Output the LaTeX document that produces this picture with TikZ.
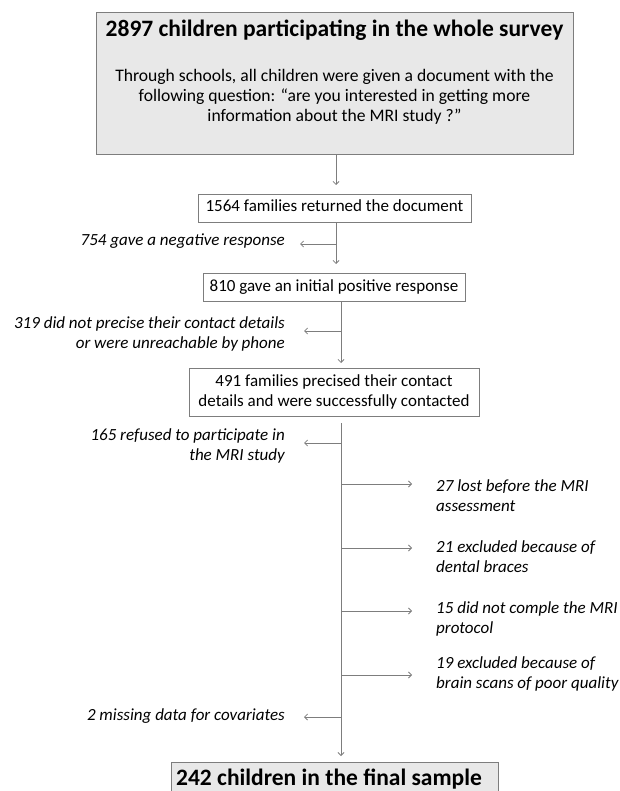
\documentclass[tikz,border=0pt]{standalone}
\usepackage{fontspec}
\setmainfont{Carlito}
\usetikzlibrary{arrows.meta}
\definecolor{linegray}{RGB}{125,125,125}
\definecolor{boxgray}{RGB}{232,232,232}
\begin{document}
\begin{tikzpicture}[x=1pt,y=-1pt,
  conn/.style={draw=linegray,line width=0.8pt},
  arr/.style={conn,-{Straight Barb[length=3pt,width=6pt]}},
  flowbox/.style={draw=linegray,line width=0.9pt,inner sep=0pt,text height=12pt,text depth=4pt,
    font=\fontsize{17}{20}\selectfont,align=center},
  graybox/.style={draw=linegray,line width=0.9pt,fill=boxgray,inner sep=0pt},
  note/.style={font=\fontsize{17}{20}\selectfont\itshape,inner sep=0pt},
  big/.style={font=\fontsize{23.5}{28}\selectfont\bfseries,inner sep=0pt}]
\useasboundingbox (0,0) rectangle (619,791);

% top box
\node[graybox,minimum width=477pt,minimum height=142pt] (top) at (334.5,83) {};
\node[big,anchor=base] (title) at (334.5,37) {2897 children participating in the whole survey};
\node[font=\fontsize{17.6}{20}\selectfont,align=center,anchor=base,inner sep=0pt] (body) at (334.5,122)
  {Through schools, all children were given a document with the\\
   following question: “are you interested in getting more\\
   information about the MRI study ?”};

% boxes
\node[flowbox,minimum width=273pt,minimum height=28pt] (b1564) at (334.5,208) {1564 families returned the document};
\node[flowbox,minimum width=262pt,minimum height=28pt] (b810) at (334,287) {810 gave an initial positive response};
\node[flowbox,text height=,text depth=,minimum width=290pt,minimum height=48pt] (b491) at (334,392)
  {491 families precised their contact\\details and were successfully contacted};
\node[graybox,minimum width=327pt,minimum height=60pt] (fin) at (334.5,792) {};
\node[big,anchor=base] (fintext) at (329,785) {242 children in the final sample};

% coordinates on trunks
\coordinate (a1) at (336,185);
\coordinate (a2) at (336,264);
\coordinate (j754) at (336,244);
\coordinate (e754) at (300,244);
\coordinate (a3) at (341,363);
\coordinate (j319) at (341,331);
\coordinate (e319) at (304,331);
\coordinate (s491) at (341,423);
\coordinate (a4) at (341,756);
\coordinate (j165) at (341,443);
\coordinate (e165) at (304,443);
\coordinate (j27) at (341,484);
\coordinate (e27) at (412,484);
\coordinate (j21) at (341,548);
\coordinate (e21) at (412,548);
\coordinate (j15) at (341,611);
\coordinate (e15) at (412,611);
\coordinate (j19) at (341,675);
\coordinate (e19) at (412,675);
\coordinate (j2) at (341,717);
\coordinate (e2) at (304,717);

% connectors
\draw[arr] (top.south -| a1) -- (a1);
\draw[arr] (b1564.south -| a2) -- (a2);
\draw[arr] (j754) -- (e754);
\draw[arr] (b810.south -| a3) -- (a3);
\draw[arr] (j319) -- (e319);
\draw[arr] (s491) -- (a4);
\draw[arr] (j165) -- (e165);
\draw[arr] (j27) -- (e27);
\draw[arr] (j21) -- (e21);
\draw[arr] (j15) -- (e15);
\draw[arr] (j19) -- (e19);
\draw[arr] (j2) -- (e2);

% notes
\node[note,anchor=base east] (n754) at (285,246) {754 gave a negative response};
\node[note,align=right,anchor=east] (n319) at (285,334) {319 did not precise their contact details\\or were unreachable by phone};
\node[note,align=right,anchor=east] (n165) at (285,446) {165 refused to participate in\\the MRI study};
\node[note,align=left,anchor=west] (n27) at (436,496) {27 lost before the MRI\\assessment};
\node[note,align=left,anchor=west] (n21) at (436,557) {21 excluded because of\\dental braces};
\node[note,align=left,anchor=west] (n15) at (436,619) {15 did not comple the MRI\\protocol};
\node[note,align=left,anchor=west] (n19) at (436,674) {19 excluded because of\\brain scans of poor quality};
\node[note,anchor=base east] (n2) at (285,720) {2 missing data for covariates};
\end{tikzpicture}
\end{document}
